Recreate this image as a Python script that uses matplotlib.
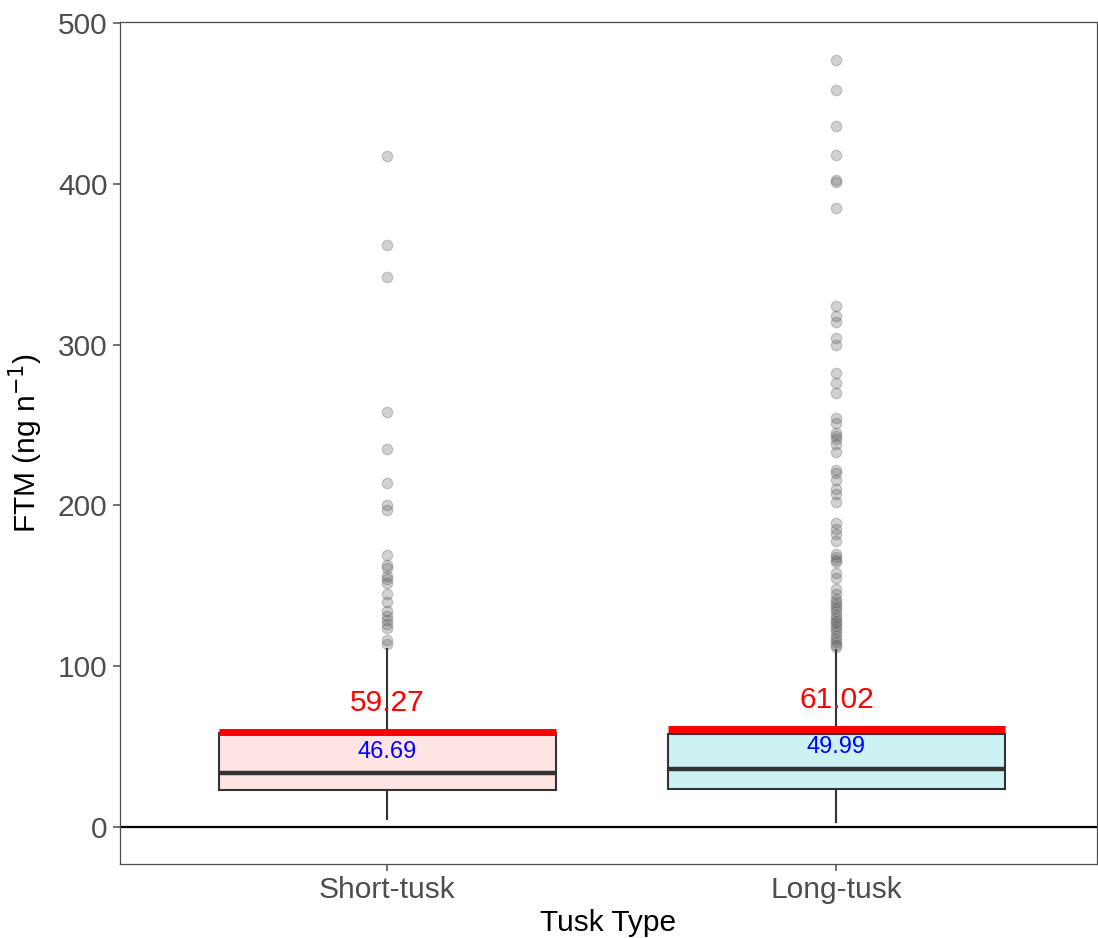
import matplotlib
matplotlib.use("Agg")
import matplotlib.pyplot as plt

plt.rcParams['font.family'] = ['Liberation Sans', 'DejaVu Sans']

categories = ["Short-tusk", "Long-tusk"]
q1 = [22.8, 23.4]
medians = [33.5, 36.3]
q3 = [58.6, 57.8]
whisker_low = [5.0, 3.3]
whisker_high = [110.5, 110.0]
means = [59.27, 61.02]
blue_values = [46.69, 49.99]
outliers_short = [417, 362, 342, 258, 235, 214, 200, 197, 169, 163, 161, 156, 154,
                  152, 145, 140, 134, 131, 129, 126, 124, 116, 114]
outliers_long = [477, 458, 436, 418, 402, 401, 385, 324, 318, 314, 304, 300, 282, 276,
                 270, 254, 251, 245, 243, 241, 238, 233, 222, 220, 216, 210, 207, 202,
                 189, 185, 182, 178, 170, 168, 166, 165, 158, 155, 148, 145, 142, 140,
                 138, 136, 134, 132, 130, 128, 127, 125, 123, 121, 119, 117, 115, 113, 112]
fills = ["#FEE4E2", "#CCF2F3"]

fig = plt.figure(figsize=(10.98, 9.38), dpi=100)
ax = fig.add_axes([0.1093, 0.0789, 0.8897, 0.8976])

positions = [1, 2]
width = 0.75
ax.axhline(0, color="black", lw=1.6, zorder=1)

stats = []
for i, name in enumerate(categories):
    stats.append(dict(label=name, q1=q1[i], med=medians[i], q3=q3[i],
                      whislo=whisker_low[i], whishi=whisker_high[i],
                      fliers=[outliers_short, outliers_long][i]))

bp = ax.bxp(stats, positions=positions, widths=width, patch_artist=True,
            showcaps=False,
            boxprops=dict(edgecolor="#333333", linewidth=1.5),
            medianprops=dict(color="#333333", linewidth=3.2),
            whiskerprops=dict(color="#333333", linewidth=1.5),
            flierprops=dict(marker="o", markersize=7.5, markerfacecolor="#4D4D4D",
                            markeredgecolor="#4D4D4D", alpha=0.25, linestyle="none"),
            zorder=3)
for patch, c in zip(bp["boxes"], fills):
    patch.set_facecolor(c)

for i, p in enumerate(positions):
    ax.hlines(means[i], p - width / 2, p + width / 2, colors="red", linewidth=5, zorder=4)
    ax.annotate(f"{means[i]:.2f}", (p, means[i]), xytext=(0, 20.5), textcoords="offset points",
                ha="center", va="center", color="red", fontsize=21.5, zorder=5)
    ax.text(p, blue_values[i], f"{blue_values[i]:.2f}", ha="center", va="center",
            color="blue", fontsize=17, zorder=5)

ax.set_xlim(0.405, 2.58)
ax.set_ylim(-23, 500.5)
ax.set_yticks([0, 100, 200, 300, 400, 500])
ax.set_xticks(positions)
ax.set_xticklabels(categories)
ax.tick_params(axis="both", colors="#4D4D4D", labelsize=21.5, length=5, width=1.1, pad=4)
for lab in ax.get_xticklabels() + ax.get_yticklabels():
    lab.set_color("#4D4D4D")
for s in ax.spines.values():
    s.set_color("#4D4D4D")
    s.set_linewidth(0.9)

ax.set_xlabel("Tusk Type", fontsize=21.5, color="black", labelpad=3)
ax.set_ylabel(r"FTM (ng n$^{-1}$)", fontsize=21.5, color="black", labelpad=9)

fig.savefig("out.png", dpi=100)
